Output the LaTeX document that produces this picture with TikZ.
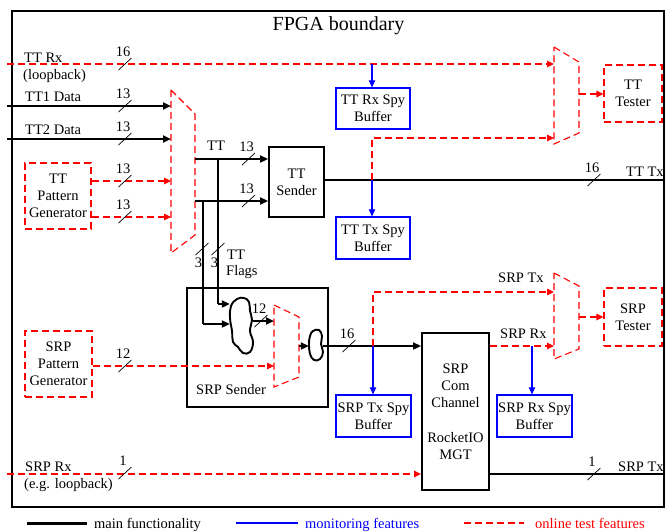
\documentclass[tikz,border=0pt]{standalone}
\usepackage{fontspec}
\setmainfont{Liberation Serif}
\usetikzlibrary{arrows.meta,calc}
\definecolor{testred}{RGB}{255,0,0}
\begin{document}
\begin{tikzpicture}[x=1pt,y=-1pt,
  every node/.style={font=\fontsize{14.5}{17}\selectfont, align=center, inner sep=0pt},
  mainl/.style={black, line width=2.5pt},
  testl/.style={testred, line width=1.1pt, dash pattern=on 7pt off 4pt},
  monl/.style={blue, line width=1.1pt},
  tipa/.style={-{Triangle[length=8pt,width=7pt]}},
  tipb/.style={-{Triangle[length=7pt,width=6.5pt]}},
  mainbox/.style={draw=black, line width=1.9pt},
  monbox/.style={draw=blue, line width=1.3pt},
  testbox/.style={draw=testred, line width=1.1pt, dash pattern=on 7pt off 4pt},
  lbl/.style={anchor=base west},
  bus/.pic={\draw[black, line width=0.7pt] (-6.5,6) -- (6.5,-6);
            \node (-t) at (-2,-12.5) {#1};},
  busv/.pic={\draw[black, line width=0.7pt] (-6.5,6) -- (6.5,-6);
            \node (-t) at (-3.5,14) {#1};},
]
\useasboundingbox (0,0) rectangle (665,531);

% frame and title
\draw[black, line width=1.4pt] (12,11) rectangle (664,507);
\node[font=\fontsize{20}{24}\selectfont, anchor=base] (title) at (338.5,30) {FPGA boundary};

% boxes
\node[testbox, minimum width=66, minimum height=66] (ttpg) at (58,196) {TT\\Pattern\\Generator};
\node[testbox, minimum width=67, minimum height=66] (srppg) at (58.5,364) {SRP\\Pattern\\Generator};
\node[mainbox, minimum width=55, minimum height=70] (ttsend) at (296.5,182) {TT\\Sender};
\node[mainbox, minimum width=141, minimum height=119] (srpsend) at (257.5,347.5) {};
\node[lbl] (srpsendl) at (196,394) {SRP Sender};
\node[monbox, minimum width=74, minimum height=41] (ttrxspy) at (373,108.5) {TT Rx Spy\\Buffer};
\node[monbox, minimum width=74, minimum height=42] (tttxspy) at (373,238) {TT Tx Spy\\Buffer};
\node[monbox, minimum width=75, minimum height=42] (srptxspy) at (373.5,416) {SRP Tx Spy\\Buffer};
\node[monbox, minimum width=75, minimum height=42] (srprxspy) at (534.5,416) {SRP Rx Spy\\Buffer};
\node[mainbox, minimum width=67, minimum height=157] (srpcom) at (455.5,411.5) {SRP\\Com\\Channel\\[18pt]RocketIO\\MGT};
\node[testbox, minimum width=58, minimum height=57] (tttester) at (633,93.5) {TT\\Tester};
\node[testbox, minimum width=58, minimum height=58] (srptester) at (633,317) {SRP\\Tester};

% clouds (combiner / serializer)
\node[minimum width=23, minimum height=55] (c1) at (241.5,325.5) {};
\draw[black, line width=1.9pt] plot[smooth cycle, tension=0.7] coordinates {
  (237,299) (244,298) (249,302) (250,311) (252,320) (250,331) (253,342) (250,352)
  (243,353) (238,347) (233,342) (232,331) (230,318) (231,306)};
\node[minimum width=14, minimum height=30] (c2) at (316,345) {};
\draw[black, line width=1.9pt] plot[smooth cycle, tension=0.7] coordinates {
  (313,331) (319,330) (322,336) (321,344) (323,352) (320,359) (314,360) (310,354) (309,344) (310,336)};

% muxes
\draw[testl] (171,90) coordinate (m1) -- (195,114) -- (195,235) -- (171,253) -- cycle;
\draw[testl] (274,305) coordinate (m2) -- (299,317) -- (299,377) -- (274,387) -- cycle;
\draw[testl] (554,47) coordinate (m3) -- (579,62) -- (579,133) -- (554,144) -- cycle;
\draw[testl] (554,273) coordinate (m4) -- (579,286) -- (579,349) -- (554,359) -- cycle;

% input / output coordinates
\coordinate (ttrxin) at (7,64);
\coordinate (tt1in) at (7,106);
\coordinate (tt2in) at (7,139);
\coordinate (srprxin) at (7,474);
\coordinate (tttxout) at (664,180);
\coordinate (srptxout) at (664,474);

% main data path
\draw[mainl, tipa] (tt1in) -- (m1 |- tt1in);
\draw[mainl, tipa] (tt2in) -- (m1 |- tt2in);
\draw[mainl, tipa] (195,159) coordinate (o1) -- (ttsend.west |- o1);
\draw[mainl, tipa] (195,201) coordinate (o2) -- (ttsend.west |- o2);
\draw[mainl] (218,159) coordinate (j1) -- (218,304) coordinate (k1);
\draw[mainl, tipa] (k1) -- (c1.west |- k1);
\draw[mainl] (203,201) coordinate (j2) -- (203,324) coordinate (k2);
\draw[mainl, tipa] (k2) -- (c1.west |- k2);
\draw[mainl, tipa] (c1.east |- 0,321) -- (m2 |- 0,321);
\draw[mainl, tipa] (299,346) coordinate (o3) -- (c2.west |- o3);
\draw[mainl, tipa] (c2.east |- o3) -- (srpcom.west |- o3);
\draw[mainl] (ttsend.east |- tttxout) -- (tttxout);
\draw[mainl] (srpcom.east |- srptxout) -- (srptxout);

% online test paths
\draw[testl, tipb] (ttrxin) -- (m3 |- ttrxin);
\draw[testl, tipb] (ttpg.east |- 0,181) -- (m1 |- 0,181);
\draw[testl, tipb] (ttpg.east |- 0,217) -- (m1 |- 0,217);
\draw[testl, tipb] (srppg.east |- 0,366) -- (m2 |- 0,366);
\draw[testl, tipb] (372,180) coordinate (t1) -- (372,138) -- (m3 |- 0,138);
\draw[testl, tipb] (579,94) -- (tttester.west |- 0,94);
\draw[testl, tipb] (373,346) coordinate (t2) -- (373,292) -- (m4 |- 0,292);
\draw[testl, tipb] (srpcom.east |- o3) -- (m4 |- o3);
\draw[testl, tipb] (579,317) -- (srptester.west |- 0,317);
\draw[testl, tipb] (srprxin) -- (srpcom.west |- srprxin);

% monitoring paths
\draw[monl, tipb] (372,64) -- (ttrxspy.north -| 372,0);
\draw[monl, tipb] (t1) -- (tttxspy.north -| t1);
\draw[monl, tipb] (t2) -- (srptxspy.north -| t2);
\draw[monl, tipb] (532,346) -- (srprxspy.north -| 532,0);

% bus widths
\pic (b1) at (125,64) {bus=16};
\pic (b2) at (125,106) {bus=13};
\pic (b3) at (125,139) {bus=13};
\pic (b4) at (125,181) {bus=13};
\pic (b5) at (125,217) {bus=13};
\pic (b6) at (248.5,159) {bus=13};
\pic (b7) at (248.5,201) {bus=13};
\pic (b8) at (202,249) {busv=3};
\pic (b9) at (218,249) {busv=3};
\pic (b10) at (261,321) {bus=12};
\pic (b11) at (125,366) {bus=12};
\pic (b12) at (349,346) {bus=16};
\pic (b13) at (594,180) {bus=16};
\pic (b14) at (125,473) {bus=1};
\pic (b15) at (594,474) {bus=1};

% labels
\node[lbl] (l1) at (24,62) {TT Rx};
\node[lbl] (l2) at (23,79) {(loopback)};
\node[lbl] (l3) at (25,101) {TT1 Data};
\node[lbl] (l4) at (25,134) {TT2 Data};
\node[lbl] (l5) at (207,150) {TT};
\node[lbl] (l6) at (227,259) {TT};
\node[lbl] (l7) at (226,275) {Flags};
\node[lbl] (l8) at (626,176) {TT Tx};
\node[lbl] (l9) at (498,282) {SRP Tx};
\node[lbl] (l10) at (500,338) {SRP Rx};
\node[lbl] (l11) at (618,471) {SRP Tx};
\node[lbl] (l12) at (25,471) {SRP Rx};
\node[lbl] (l13) at (24,488) {(e.g. loopback)};

% legend
\coordinate (lg1a) at (27,523); \coordinate (lg1b) at (87,523);
\draw[black, line width=3pt] (lg1a) -- (lg1b);
\node[lbl] (lg1) at (94,528) {main functionality};
\coordinate (lg2a) at (236,523); \coordinate (lg2b) at (298,523);
\draw[blue, line width=1.1pt] (lg2a) -- (lg2b);
\node[lbl, text=blue] (lg2) at (305,528) {monitoring features};
\coordinate (lg3a) at (464,523); \coordinate (lg3b) at (524,523);
\draw[testred, line width=1.2pt, dash pattern=on 7pt off 4pt] (lg3a) -- (lg3b);
\node[lbl, text=testred] (lg3) at (535,528) {online test features};
\end{tikzpicture}
\end{document}
